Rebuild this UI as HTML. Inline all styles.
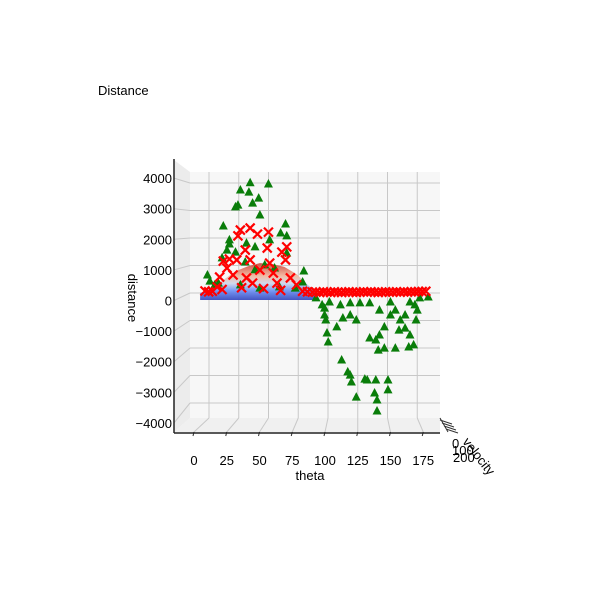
<!DOCTYPE html>
<html><head><meta charset="utf-8"><style>
body{margin:0;background:#fff;}
svg{display:block;font-family:"Liberation Sans","DejaVu Sans",sans-serif;}
</style></head><body>
<svg id="chart" width="600" height="599" viewBox="0 0 600 599">
<defs>
<linearGradient id="surfGrad" x1="0" y1="1" x2="0" y2="0">
<stop offset="0" stop-color="#3b4cc0"/><stop offset="0.25" stop-color="#6f92f3"/><stop offset="0.45" stop-color="#cfd9ec"/><stop offset="0.65" stop-color="#f2b8a0"/><stop offset="1" stop-color="#d0473d"/>
</linearGradient>
</defs>
<text x="98" y="95" font-size="13">Distance</text>
<g id="panes"></g><g id="grid"></g><g id="surface"></g><g id="marks"></g><g id="axes"></g>
</svg>
<script>
const zTicks=[4000,3000,2000,1000,0,-1000,-2000,-3000,-4000];
const zTickLabels=["4000","3000","2000","1000","0","\u22121000","\u22122000","\u22123000","\u22124000"];
const xTicks=[0,25,50,75,100,125,150,175];
const greenTheta=[37,52,29,36,44,27,39,25,15,66,62,67,20,20,34,41,18,14,25,67,81,80,2,4,11,91,96,98,99,100,101,108,113,119,124,112,117,119,120,124,131,133,140,139,141,141,150,150,142,147,156,135,140,143,147,152,160,164,168,171,167,173,174,176,183,156,143,127,111,102,119,135,152,168,98,172,164,159,8,29,45,61,74,41,49,57,33,53,45];
const greenDist=[3800,3760,3550,3480,3270,3030,3100,2970,2310,2380,2070,1970,1830,1690,1720,1590,1480,1210,1410,1380,760,380,620,410,340,-170,-410,-760,-930,-1380,-1690,-1170,-860,-760,-930,-2310,-2720,-2830,-3070,-3590,-2970,-3000,-3000,-3450,-3690,-4070,-3000,-3340,-1970,-1900,-1900,-1550,-1620,-1450,-1170,-760,-930,-1210,-1450,-1790,-1860,-930,-590,-170,-140,-590,-590,-340,-410,-310,-340,-340,-310,-310,-520,-410,-760,-1280,280,280,170,210,170,800,970,860,1070,1830,2690];
const redTheta=[37,29,27,43,52,51,67,63,33,15,20,18,26,37,53,66,70,12,45,56,23,34,39,59,75,10,0,3,6,14,30,48,62,80,84,88,91,94,97,100,103,106,109,112,115,118,121,124,127,130,133,136,139,142,145,148,151,154,157,160,163,166,169,172,175,178,181];
const redDist=[2240,2170,1970,2030,2100,1550,1590,1410,1480,1100,1170,860,1140,1140,1030,1140,520,550,790,690,620,520,340,340,280,210,70,40,60,120,180,150,90,60,40,30,30,20,40,30,20,40,30,20,30,40,30,20,30,40,30,40,30,20,30,40,30,30,40,30,40,30,40,40,50,50,60];
const surfTheta=[-4,5,15,25,35,45,55,65,75,85,92];
const surfHeight=[0,150,450,750,920,1030,1000,900,650,250,0];

const NS="http://www.w3.org/2000/svg";
function mk(tag,attrs,parent){const e=document.createElementNS(NS,tag);for(const k in attrs)e.setAttribute(k,attrs[k]);parent.appendChild(e);return e;}
const bx=t=>209+t*1.19;
const fx=t=>194+t*1.31;
const by=v=>293-v*0.0275;
const fy=v=>300.5-v*0.0306;
const dx=t=>205+t*1.22;
const dy=v=>293-v*0.029;
const panes=document.getElementById('panes'),grid=document.getElementById('grid'),surf=document.getElementById('surface'),marks=document.getElementById('marks'),axes=document.getElementById('axes');

let p=mk('rect',{x:190,y:172,width:250,height:246,fill:'#f7f7f7'},panes);

p=mk('polygon',{points:'174,160 190,172 190,418 174,432',fill:'#ececec'},panes);

p=mk('polygon',{points:'190,418 440,418 440,432 174,432',fill:'#f0f0f0'},panes);


zTicks.forEach((v,i)=>{
  let l=mk('line',{x1:190,x2:440,y1:by(v),y2:by(v),stroke:'#c8c8c8','stroke-width':1},grid);
  
  l=mk('polyline',{points:`174,${fy(v)} 190,${by(v)}`,stroke:'#c8c8c8',fill:'none'},grid);
  
  const t=mk('text',{x:172,y:fy(v)+5,'font-size':13,'text-anchor':'end'},axes);
  t.textContent=zTickLabels[i];
  
});
xTicks.forEach(v=>{
  let l=mk('line',{x1:bx(v),x2:bx(v),y1:172,y2:418,stroke:'#c8c8c8'},grid);
  
  l=mk('line',{x1:bx(v),x2:fx(v),y1:418,y2:432,stroke:'#c8c8c8'},grid);
  
  l=mk('line',{x1:fx(v),x2:fx(v)-1,y1:432,y2:436,stroke:'#333'},axes);
  
  const t=mk('text',{x:fx(v),y:465,'font-size':13,'text-anchor':'middle'},axes);
  t.textContent=String(v);
  
});

let pts=surfTheta.map((t,i)=>`${dx(t)},${dy(surfHeight[i])}`);
pts.push(`${dx(92)},300`,`${dx(-4)},300`);
let s=mk('polygon',{points:pts.join(' '),fill:'url(#surfGrad)',opacity:0.95},surf);


greenTheta.forEach((t,i)=>{
  const x=dx(t),y=dy(greenDist[i]);
  const m=mk('polygon',{points:`${x},${y-5} ${x-4.5},${y+3.5} ${x+4.5},${y+3.5}`,fill:'#0a7d0a'},marks);
  
});
redTheta.forEach((t,i)=>{
  const x=dx(t),y=dy(redDist[i]);
  const m=mk('path',{d:`M${x-4.5},${y-4.5}L${x+4.5},${y+4.5}M${x-4.5},${y+4.5}L${x+4.5},${y-4.5}`,stroke:'#ff0000','stroke-width':2.2},marks);
  
});

let a=mk('line',{x1:174,y1:159,x2:174,y2:433,stroke:'#222','stroke-width':1.5},axes);

a=mk('line',{x1:174,y1:433,x2:440,y2:433,stroke:'#222','stroke-width':1.5},axes);

a=mk('path',{d:'M440,418 L448,432 M440,420 L452,424 M442,423 L454,427 M444,426 L456,430 M446,429 L458,433',stroke:'#333',fill:'none'},axes);

</script>
<svg style="position:absolute;left:0;top:0" width="600" height="599">
<text x="310" y="480" font-size="13" text-anchor="middle" font-family="Liberation Sans,sans-serif">theta</text>
<text transform="translate(128,298) rotate(90)" font-size="13" text-anchor="middle" font-family="Liberation Sans,sans-serif">distance</text>
<text x="452" y="448" font-size="13" font-family="Liberation Sans,sans-serif">0</text>
<text x="452" y="455" font-size="13" font-family="Liberation Sans,sans-serif">100</text>
<text x="453" y="462" font-size="13" font-family="Liberation Sans,sans-serif">200</text>
<text transform="translate(462,442) rotate(52)" font-size="13" font-family="Liberation Sans,sans-serif">velocity</text>
</svg>
</body></html>
